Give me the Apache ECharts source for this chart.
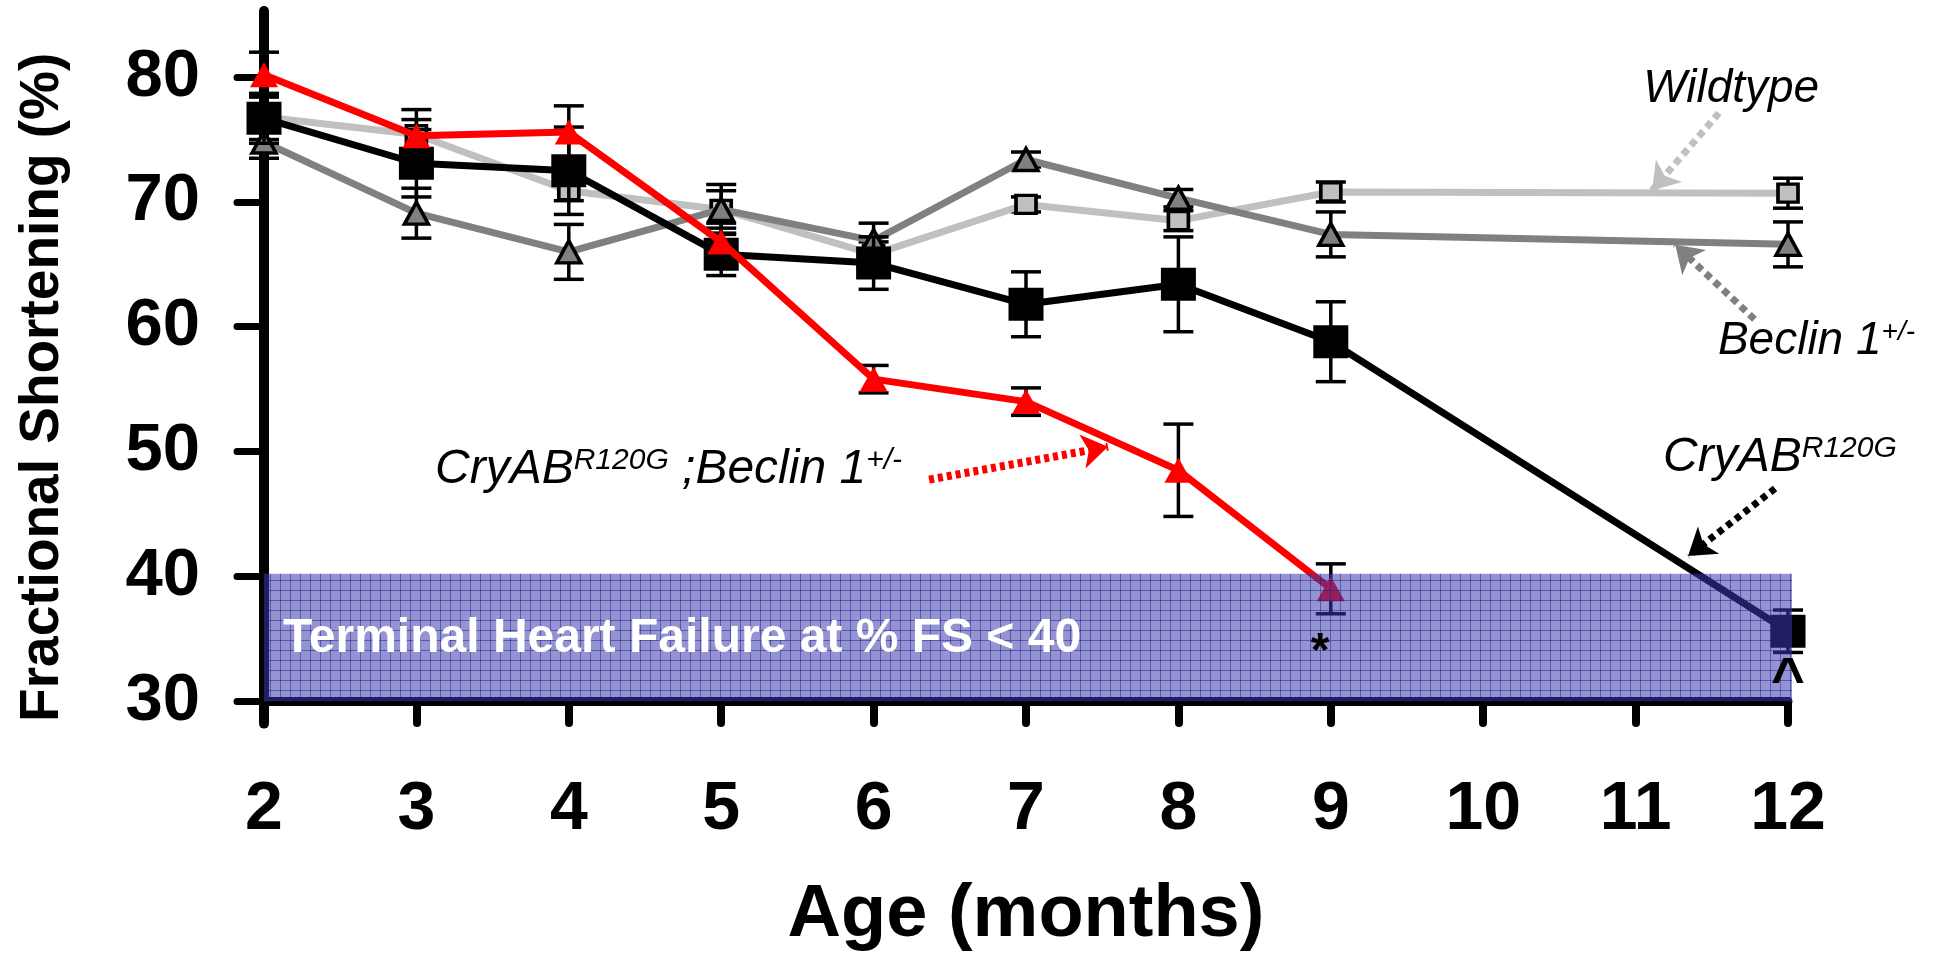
<!DOCTYPE html>
<html><head><meta charset="utf-8">
<script src="https://cdn.jsdelivr.net/npm/echarts@6/dist/echarts.min.js"></script>
<style>html,body{margin:0;padding:0;background:#fff}#c{width:1946px;height:958px}</style>
</head><body><div id="c"></div>
<script>
// ---- data ----
const months = [2, 3, 4, 5, 6, 7, 8, 9, 12];
const doubleMonths = [2, 3, 4, 5, 6, 7, 8, 9];
const wildtype = [76.8, 75.4, 70.9, 69.4, 65.8, 69.8, 68.5, 70.8, 70.7];
const wildtypeErr = [1.8, 1.2, 0.8, 1.5, 1.0, 0.6, 0.8, 0.8, 1.2];
const beclin = [74.8, 69.1, 66.0, 69.4, 66.9, 73.4, 70.3, 67.4, 66.6];
const beclinErr = [1.3, 2.0, 2.2, 2.0, 1.4, 0.6, 0.7, 1.8, 1.8];
const cryab = [76.7, 73.1, 72.5, 65.8, 65.1, 61.8, 63.4, 58.8, 35.6];
const cryabErr = [2.0, 2.7, 3.5, 1.7, 2.1, 2.6, 3.8, 3.2, 1.7];
const cryabBeclin = [80.2, 75.3, 75.6, 66.8, 55.8, 54.0, 48.5, 39.0];
const cryabBeclinErr = [1.8, 2.1, 2.1, 1.5, 1.1, 1.1, 3.7, 2.0];
const yTicks = [30, 40, 50, 60, 70, 80];
const bandLow = 30, bandHigh = 40.2;
const bandLabel = 'Terminal Heart Failure at % FS < 40';

const FONT = '"Liberation Sans", Arial, Helvetica, sans-serif';

function pts(xs, v) { return xs.map((m, i) => [m, v[i]]); }
function errData(xs, v, e) { return xs.map((m, i) => [m, v[i] - e[i], v[i] + e[i]]); }
function errRender(params, api) {
  const x = api.value(0), lo = api.value(1), hi = api.value(2);
  const t = api.coord([x, hi]), b = api.coord([x, lo]);
  const hw = 15, st = { stroke: '#000', lineWidth: 3.5 };
  return { type: 'group', children: [
    { type: 'line', shape: { x1: t[0], y1: t[1], x2: b[0], y2: b[1] }, style: st },
    { type: 'line', shape: { x1: t[0] - hw, y1: t[1], x2: t[0] + hw, y2: t[1] }, style: st },
    { type: 'line', shape: { x1: b[0] - hw, y1: b[1], x2: b[0] + hw, y2: b[1] }, style: st }
  ]};
}
function errSeries(xs, v, e, z) {
  return { type: 'custom', renderItem: errRender, data: errData(xs, v, e), encode: { x: 0, y: [1, 2] }, z: z, silent: true, animation: false };
}
function arrow(from, to, color, width, dash) {
  return {
    silent: true, animation: false, symbol: ['none', 'arrow'], symbolSize: 26,
    label: { show: false }, emphasis: { disabled: true },
    lineStyle: { color: color, width: width, type: dash, cap: 'butt', opacity: 1 },
    itemStyle: { color: color },
    data: [[{ coord: from }, { coord: to }]]
  };
}

// band fill pattern (semi-transparent blue with fine grid)
const pc = document.createElement('canvas'); pc.width = 10; pc.height = 10;
const g = pc.getContext('2d');
g.fillStyle = 'rgba(58,58,172,0.54)'; g.fillRect(0, 0, 10, 10);
g.fillStyle = 'rgba(30,30,140,0.5)'; g.fillRect(0, 0, 10, 1); g.fillRect(0, 0, 1, 10);

const chart = echarts.init(document.getElementById('c'), null, { renderer: 'canvas' });
const option = {
  animation: false,
  backgroundColor: '#fff',
  grid: { left: 264, right: 158, top: 11, bottom: 229, containLabel: false },
  xAxis: {
    type: 'value', min: 2, max: 12, interval: 1, offset: -22.6,
    axisLine: { show: true, lineStyle: { color: '#000', width: 9, cap: 'round' } },
    axisTick: { show: true, length: 22, lineStyle: { color: '#000', width: 8, cap: 'round' } },
    axisLabel: { fontSize: 68, fontWeight: 'bold', fontFamily: FONT, color: '#000', margin: 75 },
    splitLine: { show: false },
    name: 'Age (months)', nameLocation: 'middle', nameGap: 178,
    nameTextStyle: { fontSize: 74, fontWeight: 'bold', fontFamily: FONT, color: '#000' }
  },
  yAxis: {
    type: 'value', min: 28.2, max: 85.3,
    axisLine: { show: true, lineStyle: { color: '#000', width: 10, cap: 'round' } },
    axisTick: { show: true, length: 27, customValues: yTicks, lineStyle: { color: '#000', width: 7, cap: 'round' } },
    axisLabel: { customValues: yTicks, fontSize: 67, fontWeight: 'bold', fontFamily: FONT, color: '#000', margin: 64 },
    splitLine: { show: false },
    name: 'Fractional Shortening (%)', nameLocation: 'middle', nameGap: 194,
    nameTextStyle: { fontSize: 55, fontWeight: 'bold', fontFamily: FONT, color: '#000', padding: [0, 40, 0, 0] }
  },
  series: [
    errSeries(months, wildtype, wildtypeErr, 1),
    {
      name: 'Wildtype', type: 'line', data: pts(months, wildtype), z: 2, clip: false,
      lineStyle: { color: '#C0C0C0', width: 7 }, symbol: 'rect', symbolSize: [20, 18], showAllSymbol: true,
      itemStyle: { color: '#C0C0C0', borderColor: '#000', borderWidth: 3.5 },
      markLine: arrow([11.547, 77.13], [11.108, 70.92], '#C0C0C0', 7, [7, 5])
    },
    errSeries(months, beclin, beclinErr, 3),
    {
      name: 'Beclin 1+/-', type: 'line', data: pts(months, beclin), z: 4, clip: false,
      lineStyle: { color: '#808080', width: 7 }, symbol: 'triangle', symbolSize: [24, 22], showAllSymbol: true,
      itemStyle: { color: '#808080', borderColor: '#000', borderWidth: 3.5 },
      markLine: arrow([11.78, 60.6], [11.26, 66.57], '#808080', 7, [7, 5])
    },
    errSeries(months, cryab, cryabErr, 5),
    {
      name: 'CryAB R120G', type: 'line', data: pts(months, cryab), z: 6, clip: false,
      lineStyle: { color: '#000', width: 7 }, symbol: 'rect', symbolSize: [35, 33], showAllSymbol: true,
      itemStyle: { color: '#000' },
      markLine: arrow([11.915, 47.04], [11.344, 41.62], '#000', 7, [6, 5])
    },
    errSeries(doubleMonths, cryabBeclin, cryabBeclinErr, 7),
    {
      name: 'CryAB R120G;Beclin 1+/-', type: 'line', data: pts(doubleMonths, cryabBeclin), z: 8, clip: false,
      lineStyle: { color: '#FF0000', width: 7 }, symbol: 'triangle', symbolSize: [28, 25], showAllSymbol: true,
      itemStyle: { color: '#FF0000' },
      markLine: arrow([6.364, 47.75], [7.538, 50.38], '#FF0000', 8, [5, 4])
    },
    {
      type: 'custom', z: 20, silent: true, animation: false,
      data: [[months[0], bandLow, months[months.length - 1], bandHigh]],
      encode: { x: [0, 2], y: [1, 3] },
      renderItem: function (params, api) {
        const a = api.coord([api.value(0), api.value(3)]);
        const b = api.coord([api.value(2), api.value(1)]);
        return { type: 'rect', shape: { x: a[0], y: a[1], width: b[0] - a[0] + 4, height: b[1] - a[1] },
          style: { fill: { image: pc, repeat: 'repeat' } } };
      }
    }
  ]
};
chart.setOption(option);

function px(p) { return chart.convertToPixel({ gridIndex: 0 }, p); }
const ital = { fontSize: 48, fontStyle: 'italic', fontFamily: FONT, color: '#000' };
const sup = { fontSize: 30, fontStyle: 'italic', fontFamily: FONT, color: '#000', verticalAlign: 'top' };
const ital2 = { fontSize: 46, fontStyle: 'italic', fontFamily: FONT, color: '#000' };
const sup2 = { fontSize: 28, fontStyle: 'italic', fontFamily: FONT, color: '#000', verticalAlign: 'top' };
function txt(at, text, extra) {
  const p = px(at);
  return Object.assign({ type: 'text', z: 100, silent: true,
    style: Object.assign({ x: p[0], y: p[1], text: text, align: 'left', verticalAlign: 'middle',
      fontFamily: FONT, fill: '#000', rich: { m: ital, s: sup } }, extra || {}) });
}
chart.setOption({
  graphic: [
    txt([11.05, 79.04], '{m|Wildtype}', { rich: { m: ital2, s: sup2 } }),
    txt([11.54, 58.82], '{m|Beclin 1}{s|+/-}', { rich: { m: ital2, s: sup2 } }),
    txt([11.18, 49.5], '{m|CryAB}{s|R120G}'),
    txt([3.122, 48.51], '{m|CryAB}{s|R120G}{m| ;Beclin 1}{s|+/-}'),
    txt([2.125, 34.98], bandLabel, { fill: '#fff', fontSize: 48, fontWeight: 'bold', rich: null }),
    txt([8.93, 33.9], '*', { fontSize: 48, fontWeight: 'bold', align: 'center', rich: null }),
    txt([12.0, 31.6], '^', { fontSize: 58, fontWeight: 'bold', align: 'center', rich: null })
  ]
});
</script></body></html>
